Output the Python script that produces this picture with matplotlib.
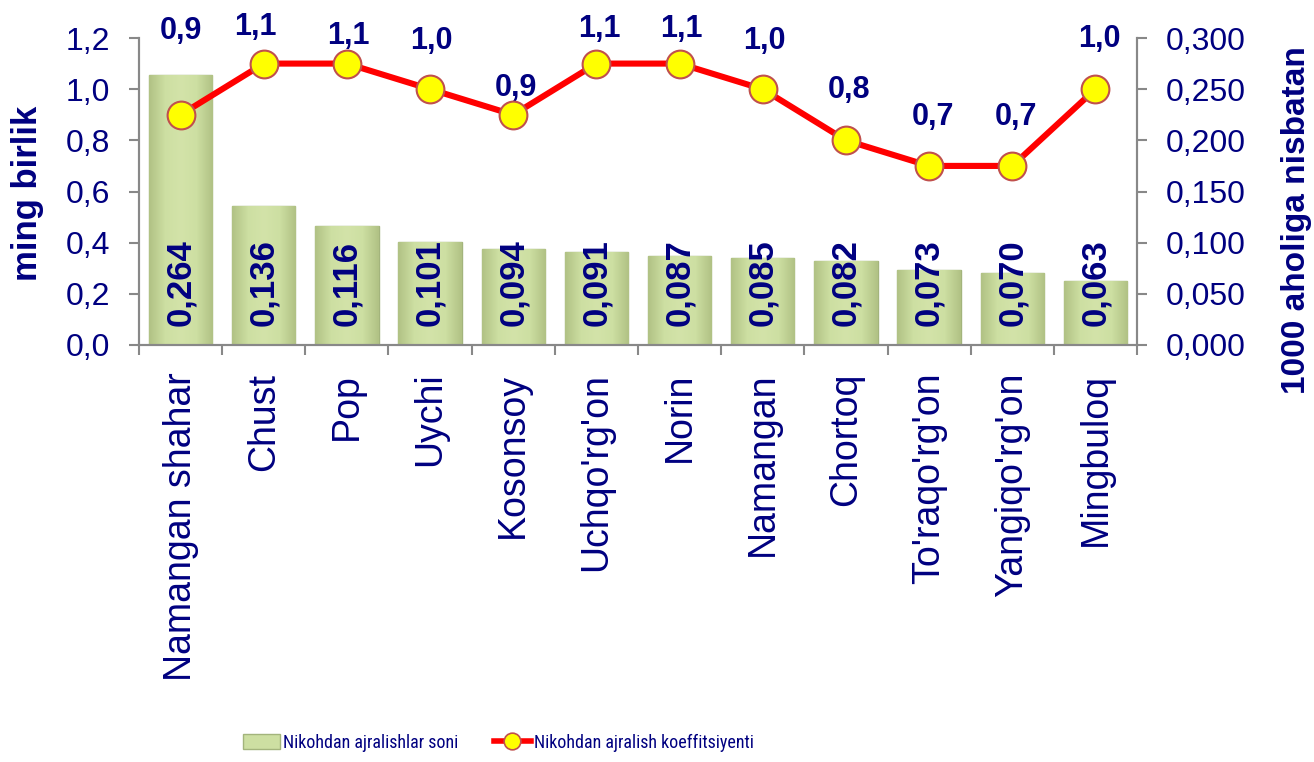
import numpy as np
from matplotlib import pyplot as plt
from matplotlib import font_manager
from matplotlib.colors import LinearSegmentedColormap
from matplotlib.lines import Line2D
from matplotlib.patches import Patch
from matplotlib.ticker import FixedLocator, FuncFormatter

# Data
districts = [
    "Namangan shahar", "Chust", "Pop", "Uychi", "Kosonsoy", "Uchqo'rg'on",
    "Norin", "Namangan", "Chortoq", "To'raqo'rg'on", "Yangiqo'rg'on", "Mingbuloq",
]
divorces = [0.264, 0.136, 0.116, 0.101, 0.094, 0.091, 0.087, 0.085, 0.082, 0.073, 0.070, 0.063]
coefficient = [0.9, 1.1, 1.1, 1.0, 0.9, 1.1, 1.1, 1.0, 0.8, 0.7, 0.7, 1.0]

bar_name = "Nikohdan ajralishlar soni"
line_name = "Nikohdan ajralish koeffitsiyenti"
left_label = "ming birlik"
right_label = "1000 aholiga nisbatan"

# label offsets above the markers (points), the reference has them hand placed
label_dy = [60, 26, 20, 35, 19, 25, 25, 35, 36, 35, 35, 36]
label_dx = [0, -6, 1, 1, 2, 2, 1, 1, 2, 3, 3, 3]

NAVY = "#000080"
GREY = "#888888"
FONT = "Liberation Sans"

# the legend in the reference uses a narrow face; take one if there is any
installed = {f.name for f in font_manager.fontManager.ttflist}
narrow = [n for n in ("Liberation Sans Narrow", "Roboto Condensed", "DejaVu Sans Condensed") if n in installed]
if narrow:
    legend_prop = {"family": narrow[0], "size": 13}
else:
    legend_prop = {"family": FONT, "size": 11}

plt.rcParams["font.family"] = [FONT, "DejaVu Sans"]

fig = plt.figure(figsize=(13.14, 7.62), dpi=100)
ax = fig.add_axes((139 / 1314, 1 - 345 / 762, 998 / 1314, 307 / 762))
ax2 = ax.twinx()

x = np.arange(len(districts))

# bars on the right axis, with a soft horizontal gradient
cmap = LinearSegmentedColormap.from_list("bar", ["#b1c285", "#cddfa2", "#d3e3a9", "#cddfa2", "#b1c285"])
grad = np.linspace(0, 1, 64).reshape(1, -1)
bars = ax2.bar(x, divorces, width=0.76, color="#cddfa2", edgecolor="#a3b47c", linewidth=1.0, zorder=2)
for b in bars:
    img = ax2.imshow(
        grad, cmap=cmap, aspect="auto", zorder=2.1,
        extent=(b.get_x(), b.get_x() + b.get_width(), 0, b.get_height()),
    )
    img.set_clip_path(b)
for i, v in enumerate(divorces):
    ax2.annotate(
        f"{v:.3f}".replace(".", ","), (i, 0), xytext=(0, 14), textcoords="offset points",
        rotation=90, ha="center", va="bottom", fontsize=25, fontweight="bold", color=NAVY, zorder=3,
    )

# line on the left axis, drawn above the bars
ax.set_zorder(ax2.get_zorder() + 1)
ax.patch.set_visible(False)
ax.plot(
    x, coefficient, color="#ff0000", linewidth=4.4, marker="o", markersize=20,
    markerfacecolor="#ffff00", markeredgecolor="#c0504d", markeredgewidth=1.5, zorder=4,
)
for i, v in enumerate(coefficient):
    ax.annotate(
        f"{v:.1f}".replace(".", ","), (i, v), xytext=(label_dx[i], label_dy[i]), textcoords="offset points",
        ha="center", va="center", fontsize=22, fontweight="bold", color=NAVY,
    )

ax.set_xlim(-0.5, len(districts) - 0.5)
ax2.set_xlim(-0.5, len(districts) - 0.5)
ax.set_ylim(0, 1.2)
ax2.set_ylim(0, 0.3)
ax.set_yticks(np.arange(0, 1.21, 0.2))
ax2.set_yticks(np.arange(0, 0.301, 0.05))
ax.yaxis.set_major_formatter(FuncFormatter(lambda v, _: f"{v:.1f}".replace(".", ",")))
ax2.yaxis.set_major_formatter(FuncFormatter(lambda v, _: f"{v:.3f}".replace(".", ",")))

ax.set_xticks(x)
ax.set_xticklabels(districts, rotation=90, ha="center", va="top", fontsize=27, color=NAVY)
ax.xaxis.set_minor_locator(FixedLocator(np.arange(-0.5, len(districts), 1.0)))
ax.tick_params(axis="x", which="major", length=0, pad=20)
ax.tick_params(axis="x", which="minor", length=7, width=1.5, color=GREY, direction="out")
ax2.tick_params(axis="x", which="both", length=0, labelbottom=False)

for a in (ax, ax2):
    a.tick_params(axis="y", length=7, width=1.5, color=GREY, pad=14, labelsize=23, labelcolor=NAVY)
    a.spines["top"].set_visible(False)
    for side in ("left", "right", "bottom"):
        a.spines[side].set_color(GREY)
        a.spines[side].set_linewidth(1.5)

fig.text(28 / 1314, 1 - 193 / 762, left_label, rotation=90, ha="center", va="center",
         fontsize=25, fontweight="bold", color=NAVY)
fig.text(1297 / 1314, 1 - 220 / 762, right_label, rotation=90, ha="center", va="center",
         fontsize=24, fontweight="bold", color=NAVY)

handles = [
    Patch(facecolor="#cddfa2", edgecolor="#a3b47c"),
    Line2D([], [], color="#ff0000", linewidth=4, marker="o", markersize=12,
           markerfacecolor="#ffff00", markeredgecolor="#c0504d", markeredgewidth=1.2),
]
fig.legend(
    handles, [bar_name, line_name], loc="center left", bbox_to_anchor=(243 / 1314, 1 - 743 / 762),
    ncol=2, frameon=False, borderpad=0, borderaxespad=0, handlelength=2.05, handleheight=0.9,
    handletextpad=0.17, columnspacing=1.95, prop=legend_prop, labelcolor=NAVY,
)

fig.savefig("out.png", dpi=100)
